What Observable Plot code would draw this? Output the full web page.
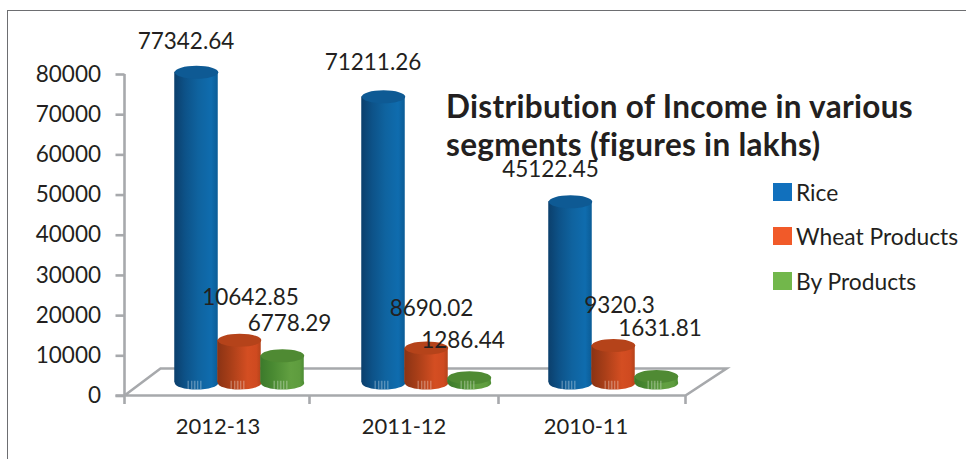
<!DOCTYPE html>
<html>
<head>
<meta charset="utf-8">
<script src="https://cdn.jsdelivr.net/npm/d3@7"></script>
<script src="https://cdn.jsdelivr.net/npm/@observablehq/plot@0.6"></script>
<style>
html,body{margin:0;padding:0;background:#fff}
#wrap{position:relative;width:966px;height:459px;overflow:hidden;font-family:Lato,sans-serif;color:#231f20}
#frame{position:absolute;left:7px;top:10px;right:-5px;bottom:-5px;border:1.5px solid #6d6e71;box-sizing:border-box}
#wrap svg{position:absolute;left:0;top:0;background:transparent}
.tl{position:absolute;left:446px;height:34px;font-weight:700;font-size:31.5px;line-height:34px;letter-spacing:.3px;white-space:nowrap;color:#231f20}
.lg{position:absolute;left:773px;height:24px;font-size:22.8px;line-height:24px;white-space:nowrap}
.lg i{position:absolute;left:0;top:3px;width:19px;height:18px}
.lg span{position:absolute;left:23px;top:0}
</style>
</head>
<body>
<div id="wrap">
<div id="frame"></div>
<div class="tl" style="top:89px">Distribution of Income in various</div>
<div class="tl" style="top:127px">segments (figures in lakhs)</div>
</div>
<script>
const groups = ["2012-13", "2011-12", "2010-11"];
const seriesNames = ["Rice", "Wheat Products", "By Products"];
const rice = [77342.64, 71211.26, 45122.45];
const wheat = [10642.85, 8690.02, 9320.3];
const byProducts = [6778.29, 1286.44, 1631.81];
const yTicks = [0, 10000, 20000, 30000, 40000, 50000, 60000, 70000, 80000];

const palette = {
  "Rice": {id: "gBlue", top: "#0e5a94", swatch: "#1170bd",
    stops: [["0%", "#0b3f6c"], ["25%", "#0d5288"], ["55%", "#0f639f"], ["85%", "#0f6cae"], ["100%", "#0b5c96"]]},
  "Wheat Products": {id: "gRed", top: "#b5431a", swatch: "#f15a29",
    stops: [["0%", "#8a3314"], ["30%", "#a83e18"], ["70%", "#d44e22"], ["90%", "#cf4a20"], ["100%", "#b5431a"]]},
  "By Products": {id: "gGreen", top: "#4f8a33", swatch: "#72b74b",
    stops: [["0%", "#3c7a2b"], ["30%", "#4a8a32"], ["70%", "#62a041"], ["90%", "#5e9c3e"], ["100%", "#4c8c33"]]}
};
const values = [rice, wheat, byProducts];
const barDx = [-22.5, 20.5, 63.5];
const lift = -13;
const labelDx = [[-33, -33, -42.5], [31.5, 25.5, 26.5], [70.5, 57, 67]];
const labelDy = [[-43, -47, -46], [-55.7, -52.5, -53], [-45, -50, -61]];
const groupLabelDx = [-1, -2, -7];

function ellipseSymbol(ratio) {
  return {draw(ctx, size) {
    const rx = Math.sqrt(size / Math.PI), ry = rx * ratio, k = 0.5523;
    ctx.moveTo(-rx, 0);
    ctx.bezierCurveTo(-rx, -ry * k, -rx * k, -ry, 0, -ry);
    ctx.bezierCurveTo(rx * k, -ry, rx, -ry * k, rx, 0);
    ctx.bezierCurveTo(rx, ry * k, rx * k, ry, 0, ry);
    ctx.bezierCurveTo(-rx * k, ry, -rx, ry * k, -rx, 0);
    ctx.closePath();
  }};
}
const glint = {draw(ctx, size) {
  const r = Math.sqrt(size / Math.PI);
  [[-1, 0.2], [-0.5, 0.2], [-0.1, 0.25], [0.35, 0.2], [0.8, 0.2]].forEach(([p, w]) => {
    ctx.rect(p * r, -r * 0.6, w * r, r * 1.2);
  });
}};

const floorAndAxes = (index, scales, vals, dims) => {
  const {marginLeft: L, marginBottom: B, width: W, height: H, marginRight: R} = dims;
  const x0 = L, x1 = W - R, y0 = H - B;
  const back = scales.y(6700);
  const g = d3.create("svg:g").attr("fill", "none").attr("stroke", "#a7a9ac").attr("stroke-width", 2.6);
  const step = (x1 - x0) / groups.length;
  g.append("path").attr("d", `M${x0},${scales.y(80000)}V${y0}`);
  g.append("path").attr("d", `M${x0 - 9},${y0}H${x1}L${x1 + 41},${back}H${x0 + 36}L${x0},${y0}`);
  groups.forEach((d, i) => g.append("path").attr("d", `M${x0 + step * (i + 1) - (i === 0 ? 2 : 0)},${y0}v8.5`));
  g.append("path").attr("d", `M${x0},${y0}v8.5`);
  return g.node();
};

const marks = [
  floorAndAxes,
  Plot.axisY({ticks: yTicks, tickFormat: d => String(d), tickSize: 9, tickPadding: 15, stroke: "#a7a9ac", strokeWidth: 2.6, fill: "#231f20", color: "#231f20", fontSize: 22.5, label: null})
];

seriesNames.forEach((name, s) => {
  const rows = groups.map((g, i) => ({group: g, value: values[s][i]}));
  const p = palette[name];
  const common = {x: "group", dx: barDx[s], dy: lift};
  marks.push(
    Plot.dot(rows, {...common, y: () => 0, r: 21.75, symbol: ellipseSymbol(0.3), fill: `url(#${p.id})`, stroke: "none"}),
    Plot.barY(rows, {...common, y: "value", insetLeft: 71.75, insetRight: 71.75, fill: `url(#${p.id})`}),
    Plot.dot(rows, {...common, y: "value", r: 21.75, symbol: ellipseSymbol(0.3), fill: p.top, stroke: "none"}),
    Plot.dot(rows, {x: "group", dx: barDx[s] - 2, dy: lift + 2, y: () => 0, r: 7, symbol: glint, fill: "#fff", fillOpacity: 0.3, stroke: "none"})
  );
});

seriesNames.forEach((name, s) => {
  groups.forEach((g, i) => {
    marks.push(Plot.text([values[s][i]], {
      x: () => g, y: d => d, text: d => String(d), dx: labelDx[s][i], dy: labelDy[s][i] + (s === 0 && i === 2 ? 1 : 0),
      fontSize: 22.5, fill: "#231f20", lineAnchor: "middle"
    }));
  });
});
groups.forEach((g, i) => {
  marks.push(Plot.text([g], {x: d => d, y: () => 0, dx: groupLabelDx[i], dy: 31, fontSize: 22, fill: "#231f20", lineAnchor: "middle"}));
});

const chart = Plot.plot({
  width: 966, height: 459,
  marginLeft: 124.5, marginRight: 280.5, marginTop: 74, marginBottom: 63.5,
  style: {fontFamily: "Lato, sans-serif", background: "transparent", overflow: "visible"},
  x: {type: "band", domain: groups, padding: 0, axis: null},
  y: {domain: [0, 80000], axis: null},
  marks
});

const defs = d3.select(chart).insert("svg:defs", ":first-child");
Object.values(palette).forEach(p => {
  const grad = defs.append("svg:linearGradient").attr("id", p.id).attr("x1", "0%").attr("x2", "100%").attr("y1", "0%").attr("y2", "0%");
  p.stops.forEach(([o, c]) => grad.append("svg:stop").attr("offset", o).attr("stop-color", c));
});

const wrap = document.getElementById("wrap");
wrap.appendChild(chart);
seriesNames.forEach((name, s) => {
  const el = document.createElement("div");
  el.className = "lg";
  el.style.top = (179.5 + s * 44.5) + "px";
  const sw = document.createElement("i");
  sw.style.background = palette[name].swatch;
  el.appendChild(sw);
  const t = document.createElement("span");
  t.textContent = name;
  el.appendChild(t);
  wrap.appendChild(el);
});
</script>
</body>
</html>
